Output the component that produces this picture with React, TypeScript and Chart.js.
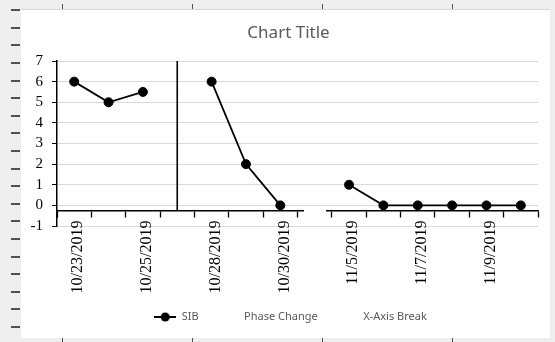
import React, { useEffect, useRef } from "react";
import { Chart, registerables } from "chart.js";

Chart.register(...registerables);

// ---- data ----
const categories = [
  "10/23/2019", "10/24/2019", "10/25/2019", "Phase",
  "10/28/2019", "10/29/2019", "10/30/2019", "Break",
  "11/5/2019", "11/6/2019", "11/7/2019", "11/8/2019", "11/9/2019", "11/10/2019",
];
const tickLabels = [
  "10/23/2019", "", "10/25/2019", "",
  "10/28/2019", "", "10/30/2019", "",
  "11/5/2019", "", "11/7/2019", "", "11/9/2019", "",
];
const sibValues = [6, 5, 5.5, null, 6, 2, 0, null, 1, 0, 0, 0, 0, 0];
const phaseChangeCategory = "Phase";
const phaseChangeValues = [7, -0.25];
const axisBreakCategory = "Break";
const axisCrossValue = -0.25;
const yMin = -1;
const yMax = 7;
const yStep = 1;
const seriesNames = ["SIB", "Phase Change", "X-Axis Break"];
const chartTitle = "Chart Title";

// spreadsheet frame decoration
const rowLines = [9, 27, 44, 62, 80, 97, 115, 132, 150, 168, 185, 203, 220, 238, 256, 273, 291, 308, 326];
const colLines = [62, 192, 322, 452];

function makeSymbol(w: number, h: number, draw: (ctx: CanvasRenderingContext2D) => void) {
  const c = document.createElement("canvas");
  c.width = w;
  c.height = h;
  const ctx = c.getContext("2d")!;
  draw(ctx);
  return c;
}

const serif = "'Liberation Serif', 'Times New Roman', serif";
const sans = "'Noto Sans', 'Open Sans', sans-serif";

// nudges the centred title / legend boxes (Excel centres them on a slightly different span)
const boxShift = {
  id: "boxShift",
  afterLayout(chart: any) {
    if (chart.legend) {
      chart.legend.left += 10;
      chart.legend.right += 10;
    }
    if (chart.titleBlock) {
      chart.titleBlock.left += 8;
      chart.titleBlock.right += 8;
    }
  },
};

export default function App() {
  const ref = useRef<HTMLCanvasElement>(null);

  useEffect(() => {
    const sibSym = makeSymbol(22, 10, (ctx) => {
      ctx.strokeStyle = "#000";
      ctx.lineWidth = 2;
      ctx.beginPath();
      ctx.moveTo(0, 5);
      ctx.lineTo(22, 5);
      ctx.stroke();
      ctx.fillStyle = "#000";
      ctx.beginPath();
      ctx.arc(11, 5, 4.5, 0, Math.PI * 2);
      ctx.fill();
    });
    const blankSym = makeSymbol(22, 10, () => {});
    const breakMark = makeSymbol(22, 5, (ctx) => {
      ctx.fillStyle = "#fff";
      ctx.fillRect(0, 0, 22, 5);
    });

    const chart = new Chart(ref.current!, {
      type: "line",
      data: {
        labels: categories,
        datasets: [
          {
            label: seriesNames[0],
            data: sibValues,
            borderColor: "#000",
            backgroundColor: "#000",
            borderWidth: 1.8,
            pointRadius: 4.5,
            pointBorderWidth: 1,
            pointBackgroundColor: "#000",
            pointBorderColor: "#000",
            spanGaps: false,
          },
          {
            label: seriesNames[1],
            data: phaseChangeValues.map((y) => ({ x: phaseChangeCategory, y })),
            borderColor: "#000",
            backgroundColor: "#000",
            borderWidth: 1.6,
            pointRadius: 0,
          },
          {
            label: seriesNames[2],
            data: [{ x: axisBreakCategory, y: axisCrossValue }],
            showLine: false,
            pointStyle: breakMark as any,
            pointRadius: 11,
            borderColor: "#fff",
            backgroundColor: "#fff",
          },
        ],
      } as any,
      options: {
        responsive: false,
        animation: false,
        events: [],
        layout: { padding: { top: 0, left: 0, right: 10, bottom: 5.5 } },
        scales: {
          x: {
            type: "category",
            offset: true,
            position: { y: axisCrossValue } as any,
            grid: {
              offset: true,
              drawOnChartArea: false,
              drawTicks: true,
              tickLength: 6,
              tickColor: "#000",
              tickWidth: 1.3,
            },
            border: { display: true, color: "#000", width: 1.5 },
            ticks: {
              autoSkip: false,
              minRotation: 90,
              maxRotation: 90,
              padding: 4,
              labelOffset: 4,
              color: "#000",
              font: { family: serif, size: 16 },
              callback: (_v: any, i: number) => tickLabels[i],
            },
          },
          y: {
            min: yMin,
            max: yMax,
            ticks: {
              stepSize: yStep,
              autoSkip: false,
              padding: 9,
              color: "#000",
              font: { family: serif, size: 15 },
            },
            grid: { color: "#d9d9d9", tickColor: "#000", tickLength: 5, lineWidth: 1 },
            border: { color: "#000", width: 1.5 },
            afterFit: (s: any) => {
              s.width = 36;
            },
          },
        },
        plugins: {
          title: {
            display: true,
            text: chartTitle,
            color: "#595959",
            font: { family: sans, size: 17, weight: "normal" },
            padding: { top: 13.8, bottom: 17.8 },
          },
          legend: {
            position: "bottom",
            title: { display: true, text: "", font: { size: 10 }, padding: { top: 55.5, bottom: 0 } },
            labels: {
              usePointStyle: true,
              pointStyleWidth: 22,
              padding: 18,
              color: "#595959",
              font: { family: sans, size: 11 },
              generateLabels: (ch: any) =>
                Chart.defaults.plugins.legend.labels
                  .generateLabels(ch)
                  .map((item: any, i: number) => ({
                    ...item,
                    pointStyle: i === 0 ? sibSym : blankSym,
                    fontColor: "#595959",
                    lineWidth: 0,
                  })),
            },
          },
          tooltip: { enabled: false },
        },
      } as any,
      plugins: [boxShift],
    });
    return () => chart.destroy();
  }, []);

  return (
    <div style={{ position: "fixed", left: 0, top: 0, width: 555, height: 342, background: "#efefef", overflow: "hidden" }}>
      {rowLines.map((y) => (
        <div key={"r" + y} style={{ position: "absolute", left: 11, top: y, width: 9, height: 2, background: "#505050" }} />
      ))}
      {colLines.map((x) => (
        <div key={"t" + x} style={{ position: "absolute", left: x, top: 4, width: 1, height: 5, background: "#505050" }} />
      ))}
      {colLines.map((x) => (
        <div key={"b" + x} style={{ position: "absolute", left: x, top: 338, width: 1, height: 4, background: "#505050" }} />
      ))}
      <div style={{ position: "absolute", left: 21, top: 9, width: 529, height: 329, background: "#fff", borderTop: "1px solid #d6d6d6", boxSizing: "border-box" }} />
      <canvas ref={ref} width={529} height={329} style={{ position: "absolute", left: 21, top: 9, width: 529, height: 329 }} />
    </div>
  );
}
